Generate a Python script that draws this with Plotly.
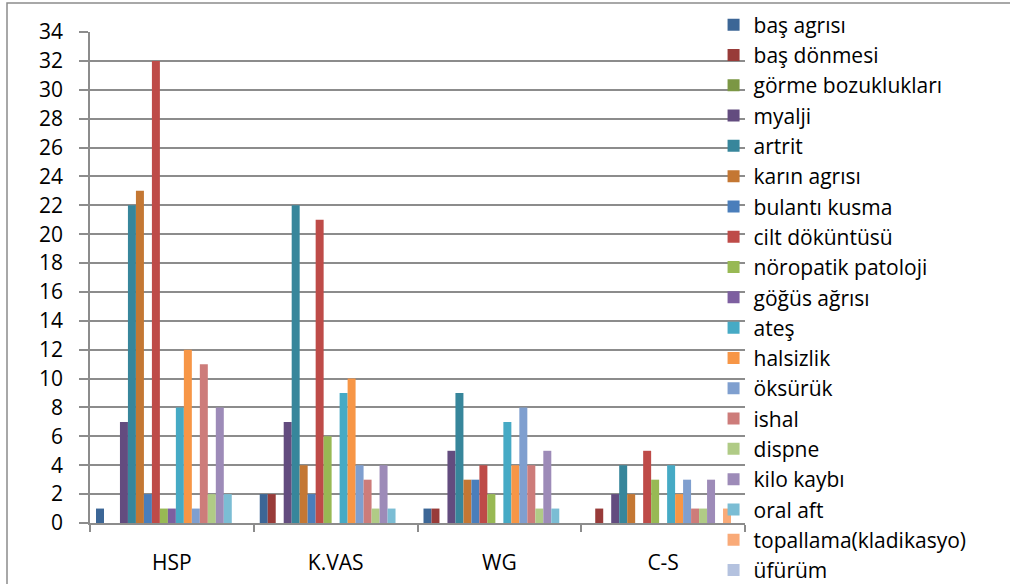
import plotly.graph_objects as go

# Patient groups along the x axis
groups = ["HSP", "K.VAS", "WG", "C-S"]

# Symptom names (one bar series each)
symptoms = [
    "baş agrısı", "baş dönmesi", "görme bozuklukları", "myalji", "artrit",
    "karın agrısı", "bulantı kusma", "cilt döküntüsü", "nöropatik patoloji",
    "göğüs ağrısı", "ateş", "halsizlik", "öksürük", "ishal", "dispne",
    "kilo kaybı", "oral aft", "topallama(kladikasyo)", "üfürüm",
]

# Counts per symptom for HSP, K.VAS, WG, C-S
bas_agrisi = [1, 2, 1, 0]
bas_donmesi = [0, 2, 1, 1]
gorme_bozukluklari = [0, 0, 0, 0]
myalji = [7, 7, 5, 2]
artrit = [22, 22, 9, 4]
karin_agrisi = [23, 4, 3, 2]
bulanti_kusma = [2, 2, 3, 0]
cilt_dokuntusu = [32, 21, 4, 5]
noropatik_patoloji = [1, 6, 2, 3]
gogus_agrisi = [1, 0, 0, 0]
ates = [8, 9, 7, 4]
halsizlik = [12, 10, 4, 2]
oksuruk = [1, 4, 8, 3]
ishal = [11, 3, 4, 1]
dispne = [2, 1, 1, 1]
kilo_kaybi = [8, 4, 5, 3]
oral_aft = [2, 1, 1, 0]
topallama = [0, 0, 0, 1]
ufurum = [0, 0, 0, 0]

series_values = [
    bas_agrisi, bas_donmesi, gorme_bozukluklari, myalji, artrit,
    karin_agrisi, bulanti_kusma, cilt_dokuntusu, noropatik_patoloji,
    gogus_agrisi, ates, halsizlik, oksuruk, ishal, dispne,
    kilo_kaybi, oral_aft, topallama, ufurum,
]

colors = [
    "#3C6696", "#983B39", "#7B9744", "#634C7F", "#37869B", "#C47733",
    "#4A7EBB", "#BE4B48", "#98B954", "#7D5FA0", "#46AAC5", "#F79646",
    "#7F9FCF", "#CD7C7A", "#B0CB86", "#9D8BB8", "#7BBDD4", "#F9AA78",
    "#B4C2DF",
]

FONT = "'Open Sans', sans-serif"
GRID = "#8C8C8C"

fig = go.Figure()
for name, vals, col in zip(symptoms, series_values, colors):
    fig.add_trace(go.Bar(
        x=groups, y=vals, name=name,
        marker=dict(color=col, line=dict(width=0)),
    ))

fig.update_layout(
    width=1010, height=584,
    margin=dict(l=90, r=265, t=32, b=61, autoexpand=False),
    paper_bgcolor="white", plot_bgcolor="white",
    barmode="group", bargap=1.5 / 20.5, bargroupgap=0,
    font=dict(family=FONT, size=21, color="black"),
    showlegend=True,
    legend=dict(
        x=0.952, xanchor="left", y=1.056, yanchor="top",
        bgcolor="rgba(0,0,0,0)", borderwidth=0,
        font=dict(family=FONT, size=21, color="black"),
        traceorder="normal", maxheight=700,
    ),
    xaxis=dict(
        showline=True, linecolor=GRID, linewidth=1.5,
        ticks="outside", tickson="boundaries", ticklen=7,
        tickcolor=GRID, tickwidth=1.5,
        showgrid=False, ticklabelstandoff=20,
        tickfont=dict(family=FONT, size=21),
    ),
    yaxis=dict(
        range=[0, 34], dtick=2, tick0=0,
        showline=True, linecolor=GRID, linewidth=1.5,
        ticks="outside", ticklen=9, tickcolor=GRID, tickwidth=1.5,
        showgrid=True, gridcolor=GRID, gridwidth=1.5,
        zeroline=False, ticklabelstandoff=12,
        tickfont=dict(family=FONT, size=21),
    ),
    shapes=[dict(
        type="rect", xref="paper", yref="paper",
        x0=(7 - 90) / 655, x1=1.6, y0=-0.5, y1=(523 - 3) / 491,
        line=dict(color="#8C8C8C", width=1.5), fillcolor="rgba(0,0,0,0)",
        layer="below",
    )],
)

fig.write_html("out.html")
